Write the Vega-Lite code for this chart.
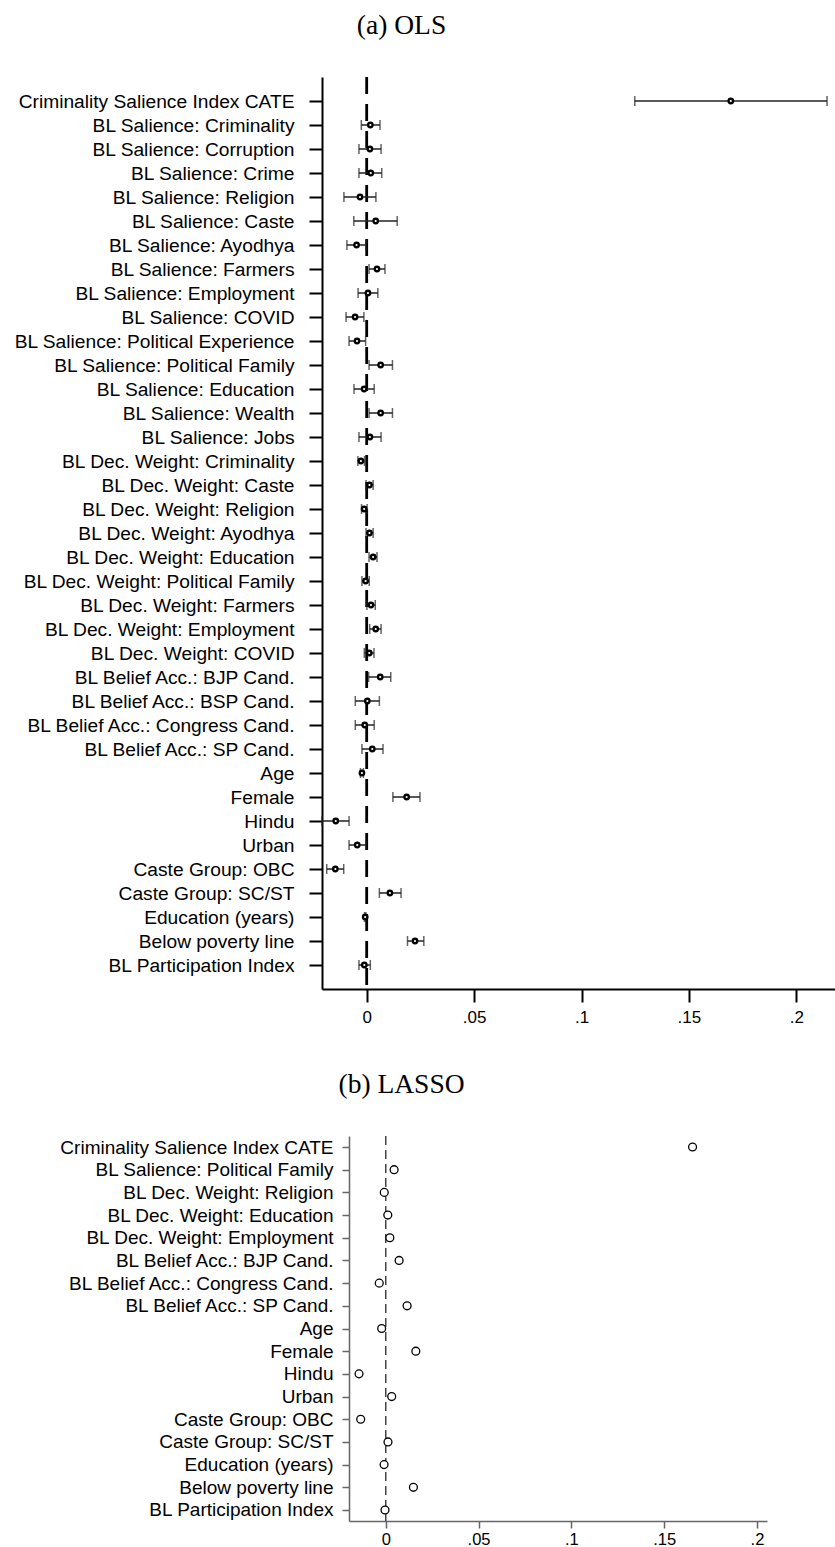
{
  "$schema": "https://vega.github.io/schema/vega-lite/v6.json",
  "padding": {"left": 13, "top": 11, "right": 0, "bottom": 0},
  "spacing": 46,
  "background": "white",
  "config": {
    "view": {"stroke": null},
    "title": {"font": "Liberation Serif", "fontSize": 27.5, "fontWeight": "normal", "color": "black", "baseline": "alphabetic", "offset": 36.5}
  },
  "datasets": {
    "ols": [
      {"label": "Criminality Salience Index CATE", "coef": 0.1695, "lo": 0.1248, "hi": 0.2143},
      {"label": "BL Salience: Criminality", "coef": 0.0017, "lo": -0.0025, "hi": 0.0062},
      {"label": "BL Salience: Corruption", "coef": 0.0015, "lo": -0.0036, "hi": 0.0067},
      {"label": "BL Salience: Crime", "coef": 0.0019, "lo": -0.0036, "hi": 0.0070},
      {"label": "BL Salience: Religion", "coef": -0.0031, "lo": -0.0106, "hi": 0.0043},
      {"label": "BL Salience: Caste", "coef": 0.0042, "lo": -0.0060, "hi": 0.0142},
      {"label": "BL Salience: Ayodhya", "coef": -0.0047, "lo": -0.0092, "hi": -0.0003},
      {"label": "BL Salience: Farmers", "coef": 0.0048, "lo": 0.0011, "hi": 0.0085},
      {"label": "BL Salience: Employment", "coef": 0.0006, "lo": -0.0040, "hi": 0.0052},
      {"label": "BL Salience: COVID", "coef": -0.0054, "lo": -0.0096, "hi": -0.0013},
      {"label": "BL Salience: Political Experience", "coef": -0.0045, "lo": -0.0082, "hi": -0.0005},
      {"label": "BL Salience: Political Family", "coef": 0.0065, "lo": 0.0011, "hi": 0.0120},
      {"label": "BL Salience: Education", "coef": -0.0012, "lo": -0.0059, "hi": 0.0035},
      {"label": "BL Salience: Wealth", "coef": 0.0065, "lo": 0.0011, "hi": 0.0120},
      {"label": "BL Salience: Jobs", "coef": 0.0015, "lo": -0.0036, "hi": 0.0067},
      {"label": "BL Dec. Weight: Criminality", "coef": -0.0027, "lo": -0.0041, "hi": -0.0010},
      {"label": "BL Dec. Weight: Caste", "coef": 0.0013, "lo": -0.0003, "hi": 0.0030},
      {"label": "BL Dec. Weight: Religion", "coef": -0.0012, "lo": -0.0024, "hi": 0.0002},
      {"label": "BL Dec. Weight: Ayodhya", "coef": 0.0013, "lo": -0.0003, "hi": 0.0030},
      {"label": "BL Dec. Weight: Education", "coef": 0.0030, "lo": 0.0011, "hi": 0.0048},
      {"label": "BL Dec. Weight: Political Family", "coef": -0.0005, "lo": -0.0022, "hi": 0.0012},
      {"label": "BL Dec. Weight: Farmers", "coef": 0.0020, "lo": 0.0001, "hi": 0.0040},
      {"label": "BL Dec. Weight: Employment", "coef": 0.0042, "lo": 0.0014, "hi": 0.0067},
      {"label": "BL Dec. Weight: COVID", "coef": 0.0012, "lo": -0.0011, "hi": 0.0034},
      {"label": "BL Belief Acc.: BJP Cand.", "coef": 0.0063, "lo": 0.0009, "hi": 0.0112},
      {"label": "BL Belief Acc.: BSP Cand.", "coef": 0.0003, "lo": -0.0053, "hi": 0.0059},
      {"label": "BL Belief Acc.: Congress Cand.", "coef": -0.0009, "lo": -0.0053, "hi": 0.0035},
      {"label": "BL Belief Acc.: SP Cand.", "coef": 0.0026, "lo": -0.0022, "hi": 0.0076},
      {"label": "Age", "coef": -0.0022, "lo": -0.0029, "hi": -0.0015},
      {"label": "Female", "coef": 0.0186, "lo": 0.0122, "hi": 0.0248},
      {"label": "Hindu", "coef": -0.0144, "lo": -0.0208, "hi": -0.0082},
      {"label": "Urban", "coef": -0.0044, "lo": -0.0082, "hi": -0.0003},
      {"label": "Caste Group: OBC", "coef": -0.0146, "lo": -0.0186, "hi": -0.0107},
      {"label": "Caste Group: SC/ST", "coef": 0.0108, "lo": 0.0059, "hi": 0.0160},
      {"label": "Education (years)", "coef": -0.0007, "lo": -0.0010, "hi": -0.0004},
      {"label": "Below poverty line", "coef": 0.0225, "lo": 0.0190, "hi": 0.0266},
      {"label": "BL Participation Index", "coef": -0.0011, "lo": -0.0036, "hi": 0.0017}
    ],
    "lasso": [
      {"label": "Criminality Salience Index CATE", "coef": 0.1653},
      {"label": "BL Salience: Political Family", "coef": 0.0045},
      {"label": "BL Dec. Weight: Religion", "coef": -0.0008},
      {"label": "BL Dec. Weight: Education", "coef": 0.0011},
      {"label": "BL Dec. Weight: Employment", "coef": 0.0022},
      {"label": "BL Belief Acc.: BJP Cand.", "coef": 0.0072},
      {"label": "BL Belief Acc.: Congress Cand.", "coef": -0.0035},
      {"label": "BL Belief Acc.: SP Cand.", "coef": 0.0115},
      {"label": "Age", "coef": -0.0022},
      {"label": "Female", "coef": 0.0162},
      {"label": "Hindu", "coef": -0.0144},
      {"label": "Urban", "coef": 0.0032},
      {"label": "Caste Group: OBC", "coef": -0.0135},
      {"label": "Caste Group: SC/ST", "coef": 0.0012},
      {"label": "Education (years)", "coef": -0.0009},
      {"label": "Below poverty line", "coef": 0.0149},
      {"label": "BL Participation Index", "coef": -0.0004}
    ]
  },
  "vconcat": [
    {
      "title": {"text": "(a) OLS", "anchor": "middle", "frame": "group", "dx": -177},
      "width": 513,
      "height": 912,
      "data": {"name": "ols"},
      "encoding": {
        "y": {
          "field": "label", "type": "nominal", "sort": null, "title": null,
          "scale": {"type": "point", "padding": 1.246},
          "axis": {"domainColor": "black", "domainWidth": 2, "tickColor": "black", "tickWidth": 2, "tickSize": 13, "labelPadding": 15, "labelFont": "Liberation Sans", "labelFontSize": 19.2, "labelColor": "black", "grid": false, "labelLimit": 400}
        }
      },
      "layer": [
        {
          "data": {"values": [{"ref": 0}]},
          "mark": {"type": "rule", "color": "black", "strokeWidth": 2.8, "strokeDash": [17, 10]},
          "encoding": {"x": {"field": "ref", "type": "quantitative"}, "y": null}
        },
        {
          "mark": {"type": "rule", "color": "#222222", "strokeWidth": 1.5},
          "encoding": {
            "x": {
              "field": "lo", "type": "quantitative", "title": null,
              "scale": {"domain": [-0.0208, 0.218], "nice": false, "zero": false},
              "axis": {"values": [0, 0.05, 0.1, 0.15, 0.2], "labelExpr": "datum.value == 0 ? '0' : substring(format(datum.value, '.2~f'), 1)", "domainColor": "black", "domainWidth": 2, "tickColor": "black", "tickWidth": 2, "tickSize": 13, "labelPadding": 7, "labelFont": "Liberation Sans", "labelFontSize": 17, "labelColor": "black", "grid": false, "labelFlush": false}
            },
            "x2": {"field": "hi"}
          }
        },
        {
          "mark": {"type": "tick", "orient": "vertical", "color": "#222222", "size": 10, "thickness": 1.5},
          "encoding": {"x": {"field": "lo", "type": "quantitative"}}
        },
        {
          "mark": {"type": "tick", "orient": "vertical", "color": "#222222", "size": 10, "thickness": 1.5},
          "encoding": {"x": {"field": "hi", "type": "quantitative"}}
        },
        {
          "mark": {"type": "circle", "fill": "white", "stroke": "black", "strokeWidth": 2.3, "size": 20, "opacity": 1},
          "encoding": {"x": {"field": "coef", "type": "quantitative"}}
        }
      ]
    },
    {
      "title": {"text": "(b) LASSO", "anchor": "middle", "frame": "group", "dx": -143},
      "width": 445,
      "height": 385,
      "data": {"name": "lasso"},
      "encoding": {
        "y": {
          "field": "label", "type": "nominal", "sort": null, "title": null,
          "scale": {"type": "point", "padding": 0.485},
          "axis": {"offset": -27, "domainColor": "#666666", "domainWidth": 1.5, "tickColor": "#666666", "tickWidth": 1.5, "tickSize": 7, "labelPadding": 9, "labelFont": "Liberation Sans", "labelFontSize": 19, "labelColor": "black", "grid": false, "labelLimit": 400}
        }
      },
      "layer": [
        {
          "data": {"values": [{"ref": 0}]},
          "mark": {"type": "rule", "color": "#444444", "strokeWidth": 1.5, "strokeDash": [9, 5]},
          "encoding": {"x": {"field": "ref", "type": "quantitative"}, "y": null}
        },
        {
          "mark": {"type": "point", "shape": "circle", "filled": false, "fill": "white", "stroke": "black", "strokeWidth": 1.3, "size": 62, "opacity": 1},
          "encoding": {
            "x": {
              "field": "coef", "type": "quantitative", "title": null,
              "scale": {"domain": [-0.0198, 0.2054], "range": [27, 445], "nice": false, "zero": false},
              "axis": {"values": [0, 0.05, 0.1, 0.15, 0.2], "labelExpr": "datum.value == 0 ? '0' : substring(format(datum.value, '.2~f'), 1)", "domainColor": "#666666", "domainWidth": 1.5, "tickColor": "#666666", "tickWidth": 1.5, "tickSize": 7, "labelPadding": 3, "labelFont": "Liberation Sans", "labelFontSize": 16.5, "labelColor": "black", "grid": false, "labelFlush": false}
            }
          }
        }
      ]
    }
  ]
}
